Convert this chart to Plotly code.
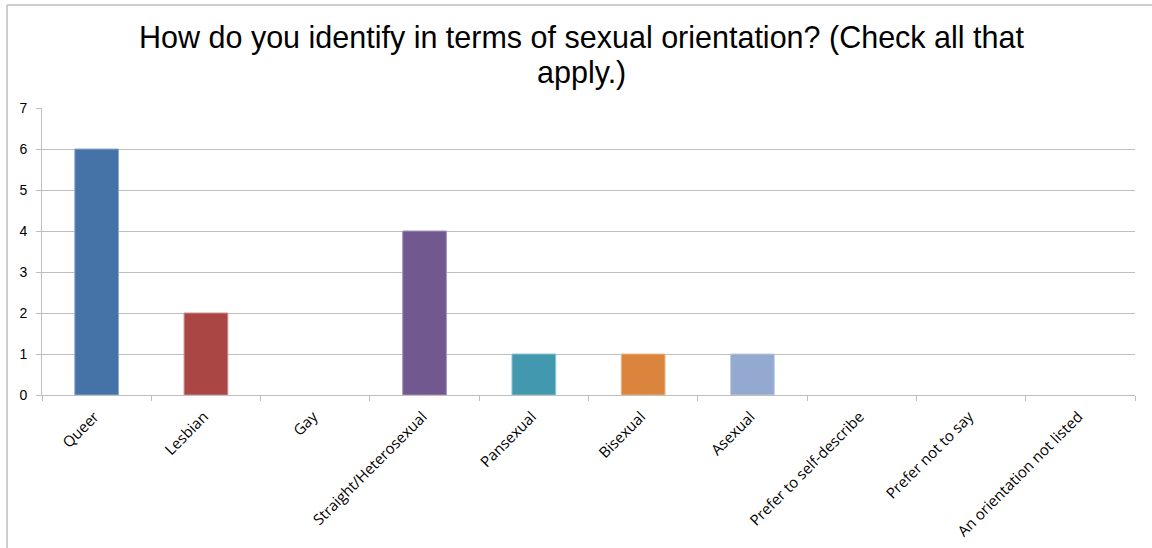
import plotly.graph_objects as go

# Survey responses: sexual orientation (check all that apply)
categories = [
    "Queer", "Lesbian", "Gay", "Straight/Heterosexual", "Pansexual",
    "Bisexual", "Asexual", "Prefer to self-describe", "Prefer not to say",
    "An orientation not listed",
]
counts = [6, 2, 0, 4, 1, 1, 1, 0, 0, 0]
bar_colors = [
    "#4572A7", "#AA4643", "#89A54E", "#71588F", "#4198AF",
    "#DB843D", "#93A9CF", "#B9CD96", "#A99BBD", "#92C5D9",
]
border_colors = [
    "#8FA9CC", "#CC8F8D", "#B5CA96", "#A596BB", "#8FC3D1",
    "#EBB48A", "#BDCBE3", "#D6E2C2", "#CBC2D8", "#BEDEEA",
]
y_ticks = [0, 1, 2, 3, 4, 5, 6, 7]
title_lines = [
    "How do you identify in terms of sexual orientation? (Check all that",
    "apply.)",
]

W, H = 1152, 548
ML, MR, MT, MB = 42, 17, 108, 153
grid = "#BEBEBE"

fig = go.Figure(
    go.Bar(
        x=categories,
        y=counts,
        marker=dict(
            color=bar_colors,
            line=dict(color=border_colors, width=[1 if v > 0 else 0 for v in counts]),
        ),
        width=0.4,
    )
)

pw = W - ML - MR
ph = H - MT - MB

fig.update_layout(
    width=W,
    height=H,
    margin=dict(l=ML, r=MR, t=MT, b=MB, pad=0, autoexpand=False),
    paper_bgcolor="white",
    plot_bgcolor="white",
    showlegend=False,
    xaxis=dict(
        type="category",
        automargin=False,
        tickangle=-45,
        tickson="boundaries",
        ticks="outside",
        ticklen=5,
        tickcolor=grid,
        showline=True,
        linecolor=grid,
        linewidth=1,
        showgrid=False,
        ticklabelshift=-2,
        ticklabelstandoff=6,
        tickfont=dict(family="Open Sans, sans-serif", size=15, color="#000000"),
    ),
    yaxis=dict(
        range=[0, 7],
        automargin=False,
        tickvals=y_ticks,
        ticks="outside",
        ticklen=5,
        tickcolor=grid,
        showline=True,
        linecolor=grid,
        linewidth=1,
        showgrid=True,
        gridcolor=grid,
        gridwidth=1,
        zeroline=False,
        ticklabelstandoff=6,
        tickfont=dict(family="Liberation Sans, Arial, sans-serif", size=14, color="#000000"),
    ),
    font=dict(family="Liberation Sans, Arial, sans-serif"),
)

# Two-line chart title
title_font = dict(family="Liberation Sans, Arial, sans-serif", size=30.5, color="#000000")
for line, cy in zip(title_lines, [37, 73]):
    fig.add_annotation(
        text=line, showarrow=False, xref="paper", yref="paper",
        x=(581 - ML) / pw, y=(H - MB - cy) / ph,
        xanchor="center", yanchor="middle", font=title_font,
    )

# Outer chart frame (top and left edges)
x0 = (7 - ML) / pw
y_top = (H - MB - 5) / ph
fig.add_shape(type="line", xref="paper", yref="paper",
              x0=x0, x1=(W - ML) / pw, y0=y_top, y1=y_top,
              line=dict(color="#BDBDBD", width=1.5))
fig.add_shape(type="line", xref="paper", yref="paper",
              x0=x0, x1=x0, y0=y_top, y1=-MB / ph,
              line=dict(color="#BDBDBD", width=1.5))

fig.write_html("out.html")
